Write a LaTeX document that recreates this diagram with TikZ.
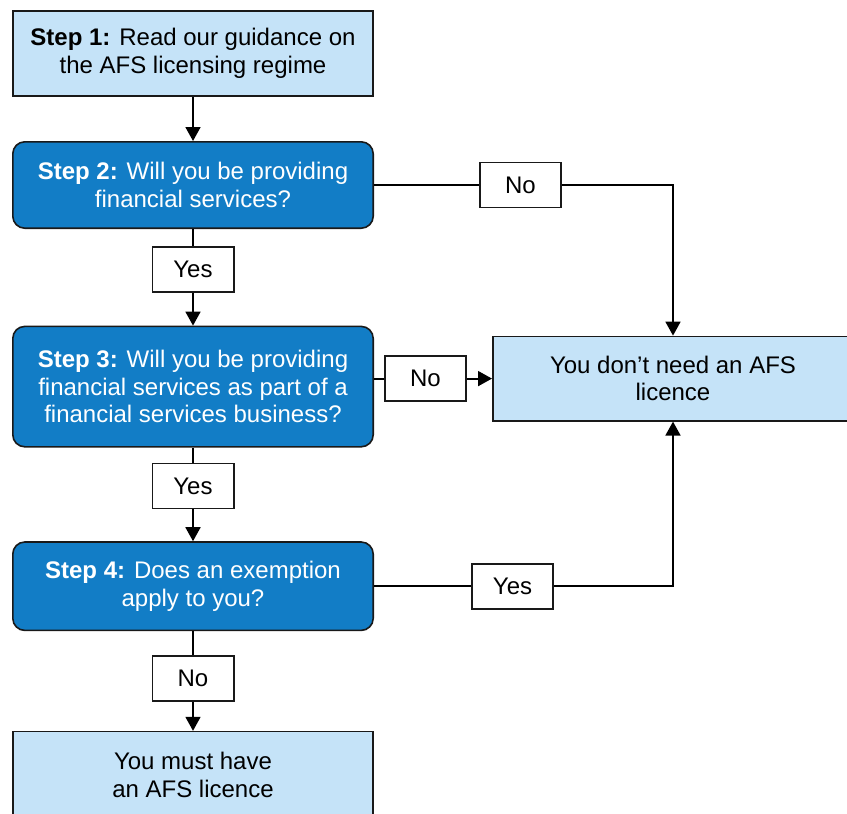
\documentclass[tikz,border=0pt]{standalone}
\usepackage{fontspec}
\setmainfont{Liberation Sans}
\usepackage{xcolor}
\usepackage{tikz}
\usetikzlibrary{arrows.meta, positioning}
\definecolor{ASICLight}{RGB}{197,227,248}
\definecolor{ASICBlue}{RGB}{18,125,198}
\definecolor{ASICEdge}{RGB}{25,25,25}
\newcommand{\chartfont}{\fontsize{24}{27.5}\selectfont}

\begin{document}
\begin{tikzpicture}[
  x=1pt, y=1pt,
  plain/.style={draw=ASICEdge, fill=ASICLight, line width=1.6pt, minimum width=360.4pt,
                minimum height=85.4pt, inner sep=0pt, align=center, font=\chartfont},
  question/.style={draw=ASICEdge, fill=ASICBlue, rounded corners=12pt, line width=1.6pt,
                   minimum width=360.4pt, inner sep=0pt, align=center, text=white, font=\chartfont},
  answer/.style={draw=ASICEdge, fill=white, line width=1.6pt, minimum width=81.4pt,
                 minimum height=45pt, inner sep=0pt, font=\chartfont},
  conn/.style={line width=1.8pt, draw=black},
  arr/.style={conn, -{Triangle[length=14pt, width=15pt]}},
]
\useasboundingbox (0,0) rectangle (847,-814);
%% Main column
\node[plain] (s1) at (193,-53.5) {\textbf{Step 1:} Read our guidance on\\the AFS licensing regime};
\node[question, minimum height=86.4pt, below=44pt of s1] (s2) {\textbf{Step 2:} Will you be providing\\financial services?};
\node[answer, below=17pt of s2] (y1) {Yes};
\node[question, minimum height=120.4pt, below=33pt of y1] (s3) {\textbf{Step 3:} Will you be providing\\financial services as part of a\\financial services business?};
\node[answer, below=15pt of s3] (y2) {Yes};
\node[question, minimum height=88.4pt, below=32pt of y2] (s4) {\textbf{Step 4:} Does an exemption\\apply to you?};
\node[answer, below=24pt of s4] (n3) {No};
\node[plain, minimum height=86.4pt, below=29pt of n3] (must) {You must have\\an AFS licence};
%% Right side
\node[plain, minimum height=84.4pt, right=118pt of s3, yshift=8pt] (need) {You don’t need an AFS\\licence};
\node[answer, left=25pt of need] (n2) {No};
\node[answer, right=105pt of s2] (n1) {No};
\node[answer, right=97pt of s4] (y3) {Yes};
%% Connectors
\draw[arr] (s1) -- (s2);
\draw[conn] (s2) -- (y1);
\draw[arr] (y1) -- (s3);
\draw[conn] (s3) -- (y2);
\draw[arr] (y2) -- (s4);
\draw[conn] (s4) -- (n3);
\draw[arr] (n3) -- (must);
\draw[conn] (s2) -- (n1);
\draw[arr] (n1) -| (need);
\draw[conn] (n2.west -| s3.east) -- (n2);
\draw[arr] (n2) -- (need);
\draw[conn] (s4) -- (y3);
\draw[arr] (y3) -| (need);
\end{tikzpicture}
\end{document}
